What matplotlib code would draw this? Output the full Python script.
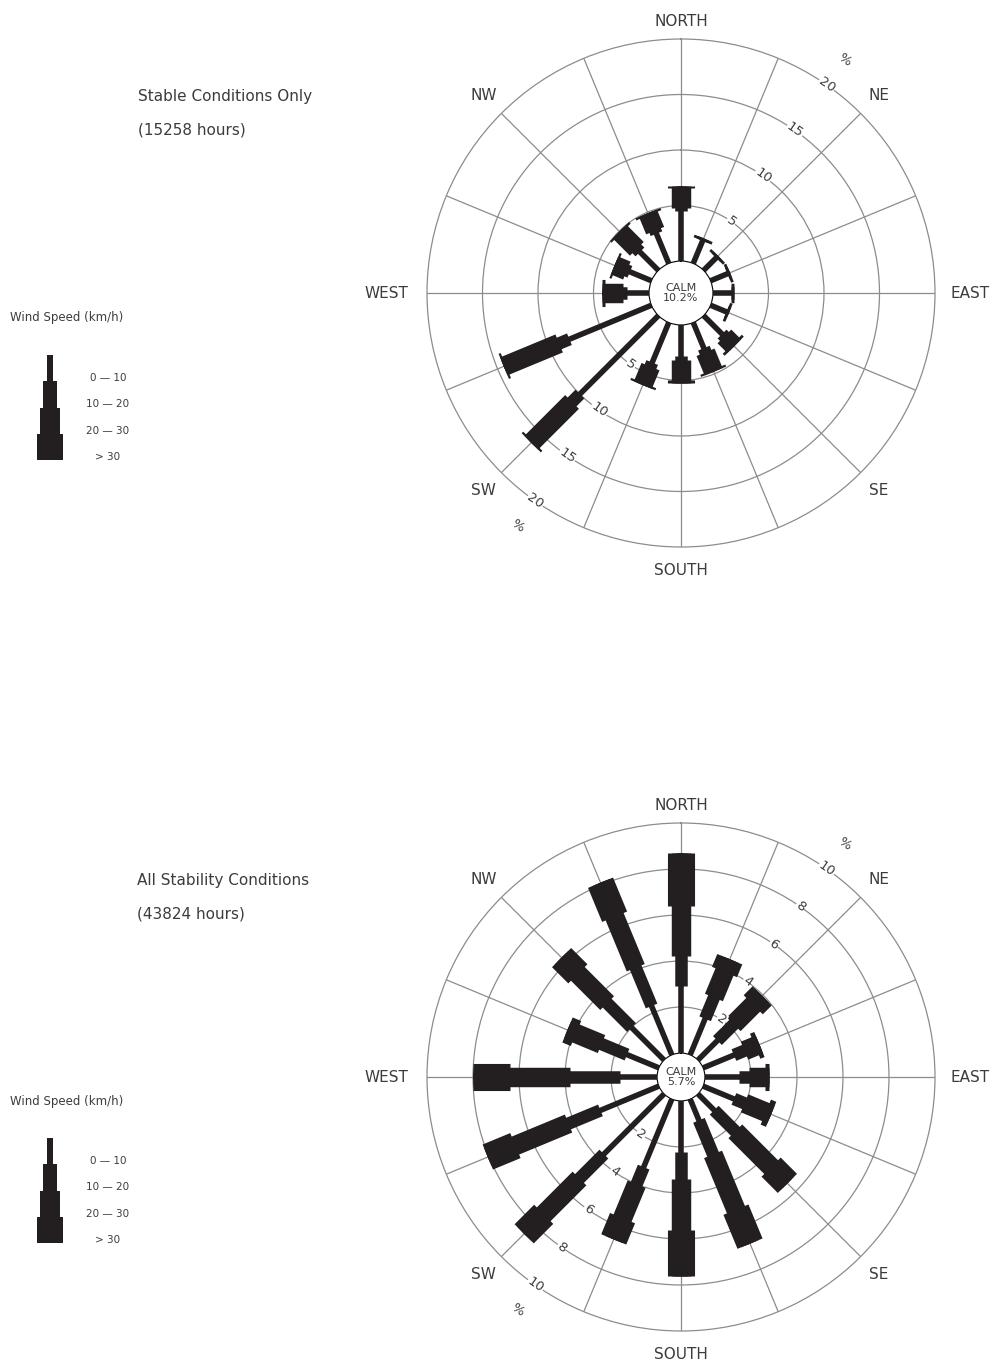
import numpy as np
import matplotlib
matplotlib.use('Agg')
import matplotlib.pyplot as plt

plt.rcParams['font.family'] = ['DejaVu Sans']

directions = ['N', 'NNE', 'NE', 'ENE', 'E', 'ESE', 'SE', 'SSE',
              'S', 'SSW', 'SW', 'WSW', 'W', 'WNW', 'NW', 'NNW']
speed_classes = ['0 \u2014 10', '10 \u2014 20', '20 \u2014 30', '> 30']

# frequency (% of hours) per direction, by wind speed class (km/h)
stable_0_10 = [4.5, 2.2, 1.6, 1.65, 1.6, 1.55, 2.35, 2.5, 2.8, 3.9, 10.0, 8.0, 2.0, 2.1, 2.35, 2.9]
stable_10_20 = [0.3, 0.0, 0.0, 0.0, 0.0, 0.0, 0.3, 0.4, 0.4, 0.4, 1.0, 1.0, 0.3, 0.3, 0.4, 0.3]
stable_20_30 = [1.8, 0.25, 0.25, 0.25, 0.25, 0.25, 1.0, 1.7, 1.8, 1.6, 5.0, 5.2, 1.7, 1.0, 2.0, 1.5]
stable_30 = [0.2, 0.0, 0.0, 0.0, 0.0, 0.0, 0.25, 0.2, 0.2, 0.2, 0.2, 0.2, 0.2, 0.2, 0.2, 0.2]
stable_calm = 10.2
stable_hours = 15258

all_0_10 = [2.9, 1.7, 1.2, 1.45, 1.5, 1.45, 1.0, 1.0, 2.2, 3.2, 3.7, 2.75, 1.6, 1.5, 2.0, 2.3]
all_10_20 = [1.3, 1.0, 1.0, 0.5, 0.4, 0.5, 1.3, 1.6, 1.2, 0.8, 1.5, 1.5, 2.2, 1.2, 1.5, 1.8]
all_20_30 = [2.2, 1.2, 1.2, 0.5, 0.7, 1.0, 2.2, 2.6, 2.2, 1.6, 2.2, 2.5, 2.6, 1.2, 1.8, 2.4]
all_30 = [2.3, 0.6, 0.55, 0.2, 0.2, 0.25, 1.0, 1.6, 2.0, 1.0, 1.2, 1.3, 1.6, 0.4, 1.0, 1.6]
all_calm = 5.7
all_hours = 43824

stable_rings = [5, 10, 15, 20]
all_rings = [2, 4, 6, 8, 10]

W, H = 999, 1366
bar_color = '#231f20'
grid_color = '#8c8c8c'
text_color = '#3c3c3c'
bar_widths = [4.0, 9.0, 14.0, 19.5]   # line widths (pt) for the four speed classes

fig = plt.figure(figsize=(W / 100, H / 100), dpi=100)


def wind_rose(cx, cy, R, segments, rings, rzero, calm):
    ax = fig.add_axes([(cx - R) / W, (H - cy - R) / H, 2 * R / W, 2 * R / H],
                      projection='polar')
    rmax = rings[-1]
    ax.set_theta_zero_location('N')
    ax.set_theta_direction(-1)
    ax.set_ylim(0, rmax)
    ax.set_rorigin(-rzero)
    ax.set_xticks(np.deg2rad(np.arange(16) * 22.5))
    ax.set_yticks(rings[:-1])
    ax.set_xticklabels([])
    ax.set_yticklabels([])
    ax.grid(True, color=grid_color, lw=0.9)
    ax.spines['polar'].set_color(grid_color)
    ax.spines['polar'].set_linewidth(0.9)
    ax.spines['inner'].set_visible(False)

    theta = np.deg2rad(np.arange(16) * 22.5)
    seg = np.array(segments, dtype=float)
    starts = np.vstack([np.zeros(16), np.cumsum(seg, axis=0)[:-1]])
    total = seg.sum(axis=0)
    # each class runs from its own start to the tip; the next (wider) class
    # is drawn over it, so the stepped outline has no seams
    for k, lw in enumerate(bar_widths):
        for t, r0, r1 in zip(theta, starts[k], total):
            if r1 > r0:
                ax.plot([t, t], [r0, r1], color=bar_color, lw=lw,
                        solid_capstyle='butt', zorder=3 + k)

    # radius as a fraction of the outer ring, measured from the centre
    def frac(f):
        return -rzero + (rmax + rzero) * f

    labels = [('NORTH', 0, 1.067), ('NE', 45, 1.1), ('EAST', 90, 1.14),
              ('SE', 135, 1.1), ('SOUTH', 180, 1.094), ('SW', 225, 1.1),
              ('WEST', 270, 1.16), ('NW', 315, 1.1)]
    for txt, ang, f in labels:
        ax.text(np.deg2rad(ang), frac(f), txt, ha='center', va='center',
                fontsize=11, color=text_color)

    for ang in (35, 215):
        for r in rings:
            ax.text(np.deg2rad(ang), r, str(r), ha='center', va='center',
                    rotation=-35, fontsize=9.5, color=text_color, zorder=8,
                    bbox=dict(boxstyle='square,pad=0.05', fc='white', ec='none'))
        ax.text(np.deg2rad(ang), frac(1.12), '%', ha='center', va='center',
                rotation=-35, fontsize=9.5, color=text_color)

    ax.text(0.5, 0.5, 'CALM\n%.1f%%' % calm, transform=ax.transAxes,
            ha='center', va='center', fontsize=8, color=text_color,
            linespacing=0.95, zorder=9)
    return ax


def speed_key(top):
    # stepped bar showing the width used for each speed class
    kx0, kx1 = 20, 80
    ky0, ky1 = top, top + 105
    kax = fig.add_axes([kx0 / W, (H - ky1) / H, (kx1 - kx0) / W, (ky1 - ky0) / H])
    kax.set_xlim(-1, 1)
    kax.set_ylim(4, 0)
    kax.axis('off')
    widths = [0.2, 0.47, 0.67, 0.87]
    for i, (w, lab) in enumerate(zip(widths, speed_classes)):
        kax.bar(0, 1.02, width=w, bottom=i, color=bar_color, align='center',
                linewidth=0)
        kax.text(1.93, i + 0.88, lab, ha='center', va='center', fontsize=7.5,
                 color=text_color, clip_on=False)
    fig.text(10 / W, 1 - (top - 37) / H, 'Wind Speed (km/h)', ha='left',
             va='center', fontsize=8.5, color=text_color)


wind_rose(681, 293, 254,
          [stable_0_10, stable_10_20, stable_20_30, stable_30],
          stable_rings, 2.88, stable_calm)
wind_rose(681, 1077, 254,
          [all_0_10, all_10_20, all_20_30, all_30],
          all_rings, 1.04, all_calm)

fig.text(138 / W, 1 - 97 / H, 'Stable Conditions Only', ha='left', va='center',
         fontsize=11, color=text_color)
fig.text(138 / W, 1 - 130 / H, '(%d hours)' % stable_hours, ha='left',
         va='center', fontsize=11, color=text_color)
fig.text(137 / W, 1 - 881 / H, 'All Stability Conditions', ha='left',
         va='center', fontsize=11, color=text_color)
fig.text(137 / W, 1 - 914 / H, '(%d hours)' % all_hours, ha='left',
         va='center', fontsize=11, color=text_color)

speed_key(355)
speed_key(1138)

fig.savefig('out.png', dpi=100, facecolor='white')
